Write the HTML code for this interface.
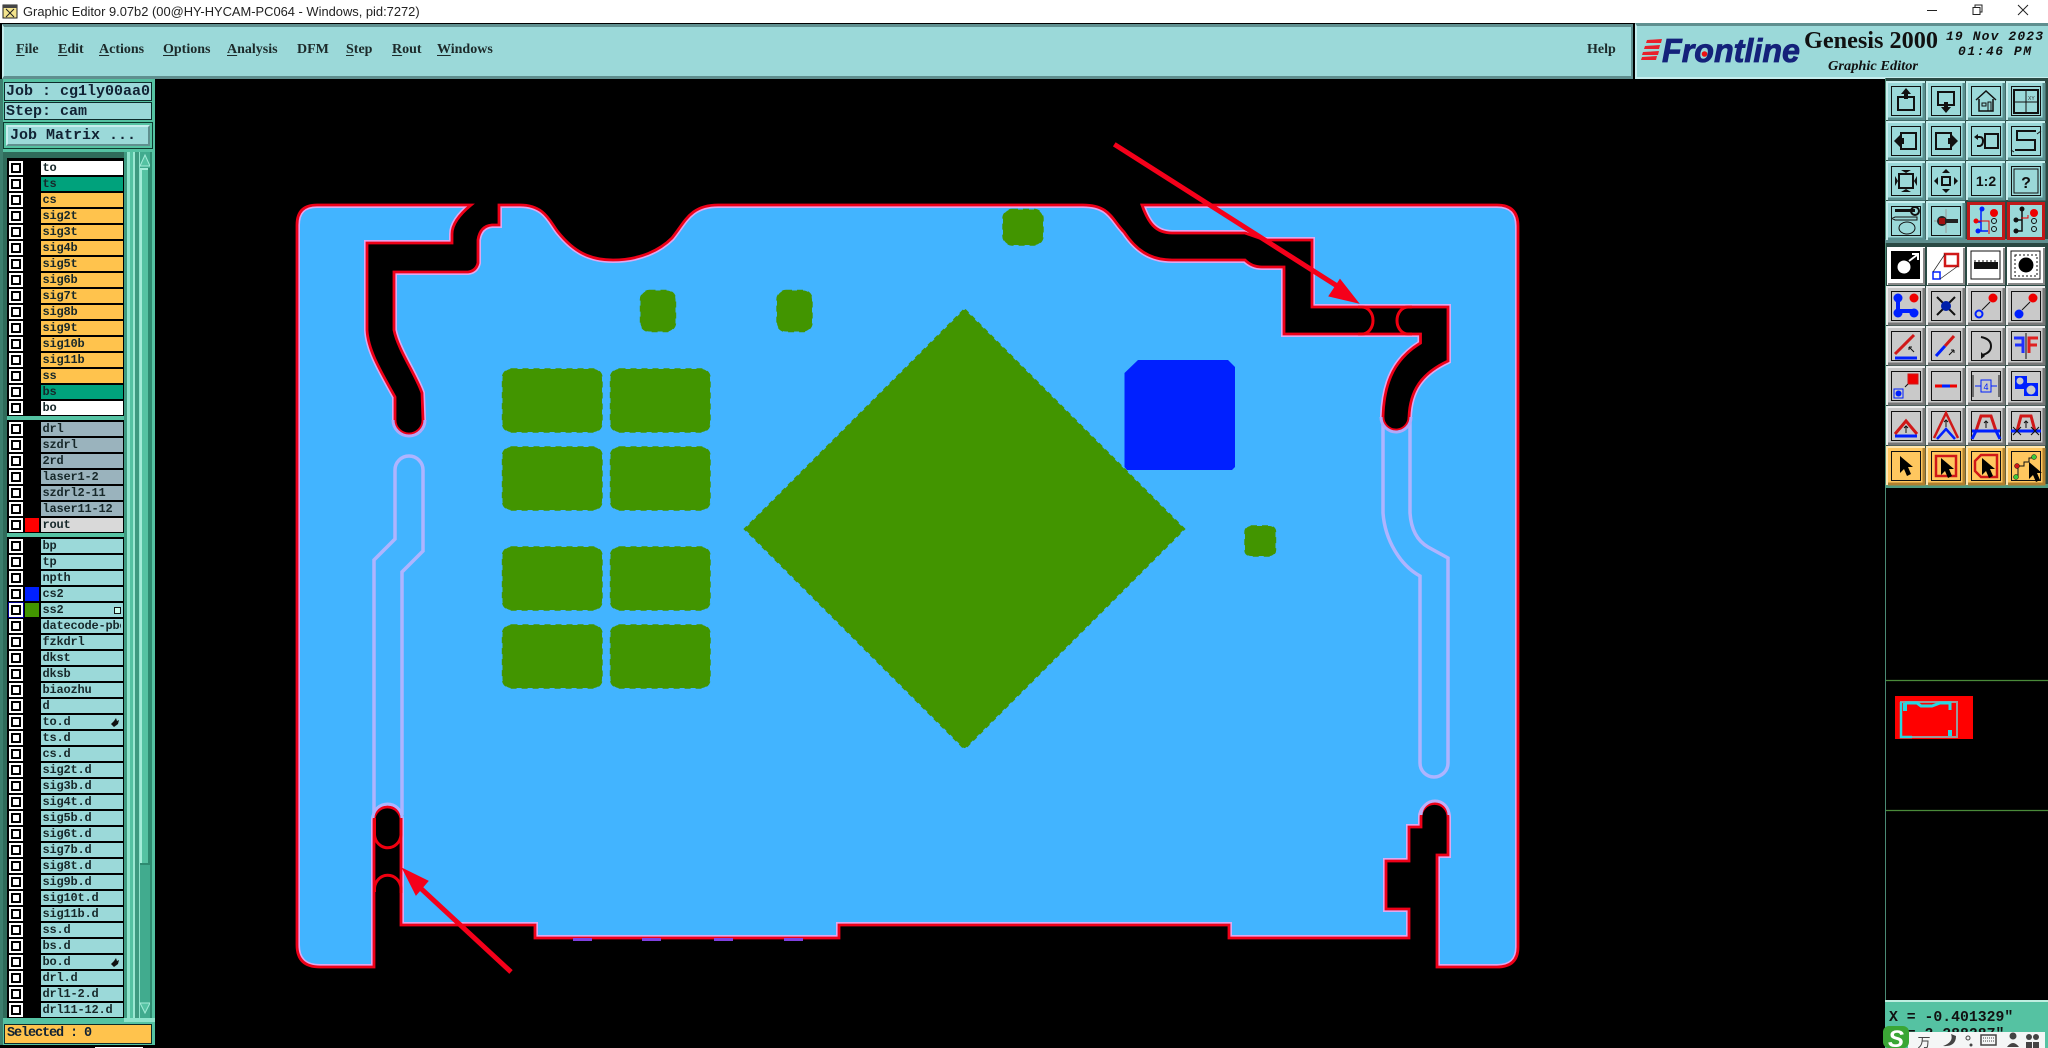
<!DOCTYPE html>
<html><head><meta charset="utf-8"><title>Graphic Editor</title>
<style>
html,body{margin:0;padding:0;background:#000}
#p{position:relative;width:2048px;height:1048px;overflow:hidden;background:#000;font-family:"Liberation Sans",sans-serif}
.a{position:absolute}
.m{position:absolute;top:41px;font:bold 14px/18px "Liberation Serif",serif;color:#1c2a2a}
.m u{text-underline-offset:2px}
.b{position:absolute;left:4px;width:148px;background:#9bd9d9;border:1px solid #0d2b2b;box-sizing:border-box;font:bold 15px/17px "Liberation Mono",monospace;color:#123;padding-left:1px;white-space:pre}
.r{position:absolute;left:41px;width:80px;height:14px;padding-left:1.5px;font:bold 12px/14px "Liberation Mono",monospace;letter-spacing:-.2px;color:#17282a;background:#9bd9d9;white-space:pre}
.r::before{content:"";position:absolute;left:-32px;top:0;width:14px;height:14px;background:#fff}
.r::after{content:"";position:absolute;left:-30px;top:2px;width:10px;height:10px;box-sizing:border-box;border:2px solid #000;background:#fff}
.o{background:#ffc34d}.g{background:#00a27c}.w{background:#fff}.s{background:#9ab3bd}
.c{position:absolute;left:-16px;top:0;width:14px;height:14px}
</style></head><body><div id="p">

<!-- title bar -->
<div class="a" style="left:0;top:0;width:2048px;height:23px;background:#fff"></div>
<svg class="a" style="left:0;top:0" width="2048" height="23">
<rect x="3" y="5" width="14" height="13" fill="#f4e48c" stroke="#222"/><rect x="3" y="5" width="14" height="3" fill="#444"/>
<path d="M6 9l8 8M14 9l-8 8" stroke="#222"/>
<path d="M1927 10.5h10" stroke="#222"/><path d="M1975 7.5v-2.500h7v7h-2.500" fill="none" stroke="#222"/><rect x="1973" y="7.500" width="7" height="7" fill="#fff" stroke="#222"/>
<path d="M2018 5l10 10M2028 5l-10 10" stroke="#222"/>
</svg>
<div class="a" style="left:23px;top:3px;font-size:12.9px;line-height:18px;color:#222;white-space:pre">Graphic Editor 9.07b2 (00@HY-HYCAM-PC064 - Windows, pid:7272)</div>

<!-- menu -->
<div class="a" style="left:2px;top:24px;width:1631px;height:55px;background:#9bd9d9;box-sizing:border-box;border-top:3px solid #5f8f8f;border-left:2px solid #c7eeee;border-bottom:3px solid #5f8f8f;border-right:2px solid #5f8f8f"></div>
<div class="a" style="left:1635px;top:23px;width:413px;height:56px;background:#9bd9d9;box-sizing:border-box;border-top:3px solid #5f8f8f;border-left:2px solid #c7eeee;border-bottom:2px solid #c7eeee"></div>
<div class="m" style="left:16px"><u>F</u>ile</div>
<div class="m" style="left:58px"><u>E</u>dit</div>
<div class="m" style="left:99px"><u>A</u>ctions</div>
<div class="m" style="left:163px"><u>O</u>ptions</div>
<div class="m" style="left:227px"><u>A</u>nalysis</div>
<div class="m" style="left:297px">DFM</div>
<div class="m" style="left:346px"><u>S</u>tep</div>
<div class="m" style="left:392px"><u>R</u>out</div>
<div class="m" style="left:437px"><u>W</u>indows</div>
<div class="m" style="left:1587px">Help</div>

<!-- logo -->
<svg class="a" style="left:1635px;top:23px" width="413" height="56">
<g fill="#e8202a"><path d="M12 17L27 16L26 20H11zM10 23L25 22L24 26H9zM8 29L24 28L23 32H7zM7 34L22 33L21 37H6z"/></g>
<text x="27" y="39" font-family="Liberation Sans" font-weight="bold" font-style="italic" font-size="33" fill="#14227a" stroke="#14227a" stroke-width=".8" textLength="138" lengthAdjust="spacingAndGlyphs">Frontline</text>
<circle cx="69.500" cy="31" r="2.800" fill="#e11"/>
<text x="169" y="25" font-family="Liberation Serif" font-weight="bold" font-size="24" fill="#111" textLength="134" lengthAdjust="spacingAndGlyphs">Genesis 2000</text>
<text x="193" y="47" font-family="Liberation Serif" font-weight="bold" font-style="italic" font-size="14" fill="#111" textLength="90" lengthAdjust="spacingAndGlyphs">Graphic Editor</text>
<text x="311" y="17" xml:space="preserve" font-family="Liberation Mono" font-style="italic" font-weight="bold" font-size="13" fill="#111" textLength="97" lengthAdjust="spacing">19 Nov 2023</text>
<text x="323" y="32" xml:space="preserve" font-family="Liberation Mono" font-style="italic" font-weight="bold" font-size="13" fill="#111" textLength="73" lengthAdjust="spacing">01:46 PM</text>
</svg>

<!-- left panel -->
<div class="a" style="left:0;top:79px;width:155px;height:966px;background:#55c2a2"></div>
<div class="a" style="left:0;top:152px;width:124px;height:866px;background:#2f6b5a"></div>
<div class="a" style="left:7px;top:158px;width:117px;height:860px;background:#000"></div>
<div class="a" style="left:7px;top:416px;width:117px;height:4px;background:#55c2a2"></div>
<div class="a" style="left:7px;top:533px;width:117px;height:4px;background:#55c2a2"></div>
<svg class="a" style="left:124px;top:152px" width="31" height="872">
<rect x="0" y="0" width="3" height="866" fill="#3e9a80"/>
<rect x="3" y="0" width="3" height="866" fill="#8fe4cc"/>
<rect x="6" y="0" width="3" height="866" fill="#55c2a2"/>
<rect x="9" y="0" width="2" height="866" fill="#9be8d2"/>
<rect x="11" y="0" width="4" height="866" fill="#3e9a80"/>
<rect x="15" y="0" width="1" height="866" fill="#8fe4cc"/>
<rect x="16" y="0" width="10" height="866" fill="#41ab8e"/>
<rect x="16" y="16" width="10" height="697" fill="#55c2a2"/>
<rect x="16" y="16" width="2" height="697" fill="#a3ecd8"/>
<rect x="16" y="16" width="10" height="2" fill="#a3ecd8"/>
<rect x="24" y="16" width="2" height="697" fill="#2e8a70"/>
<rect x="16" y="711" width="10" height="2" fill="#2e8a70"/>
<path d="M21 3l5 11h-10z" fill="#55c2a2" stroke="#a3ecd8"/>
<path d="M21 861l5-10h-10z" fill="#55c2a2" stroke="#a3ecd8"/>
<rect x="26" y="0" width="2" height="866" fill="#2e8a70"/>
<rect x="0" y="866" width="31" height="4" fill="#8fe4cc"/>
</svg>
<div class="a" style="left:0;top:79px;width:3px;height:966px;background:#3d7f6e"></div>

<div class="b" style="top:82px;height:19px">Job : cg1ly00aa0</div>
<div class="b" style="top:102px;height:18px">Step: cam</div>
<div class="a" style="left:3px;top:122px;width:150px;height:27px;background:#55c2a2;border:1px solid #0d3b30;box-sizing:border-box"></div>
<div class="a" style="left:6px;top:125px;width:144px;height:21px;box-sizing:border-box;background:#9bd9d9;border:2px solid;border-color:#c7eeee #5f8f8f #5f8f8f #c7eeee;font:bold 15px/18px 'Liberation Mono',monospace;color:#123;padding-left:2px;white-space:pre">Job Matrix ...</div>

<!-- layers -->
<div class="r w" style="top:161px">to</div>
<div class="r g" style="top:177px">ts</div>
<div class="r o" style="top:193px">cs</div>
<div class="r o" style="top:209px">sig2t</div>
<div class="r o" style="top:225px">sig3t</div>
<div class="r o" style="top:241px">sig4b</div>
<div class="r o" style="top:257px">sig5t</div>
<div class="r o" style="top:273px">sig6b</div>
<div class="r o" style="top:289px">sig7t</div>
<div class="r o" style="top:305px">sig8b</div>
<div class="r o" style="top:321px">sig9t</div>
<div class="r o" style="top:337px">sig10b</div>
<div class="r o" style="top:353px">sig11b</div>
<div class="r o" style="top:369px">ss</div>
<div class="r g" style="top:385px">bs</div>
<div class="r w" style="top:401px">bo</div>
<div class="r s" style="top:422px">drl</div>
<div class="r s" style="top:438px">szdrl</div>
<div class="r s" style="top:454px">2rd</div>
<div class="r s" style="top:470px">laser1-2</div>
<div class="r s" style="top:486px">szdrl2-11</div>
<div class="r s" style="top:502px">laser11-12</div>
<div class="r" style="top:518px;background:#d9d9d9">rout<span class="c" style="background:#f00"></span></div>
<div class="r" style="top:539px">bp</div>
<div class="r" style="top:555px">tp</div>
<div class="r" style="top:571px">npth</div>
<div class="r" style="top:587px">cs2<span class="c" style="background:#0020ff"></span></div>
<div class="a" style="left:8px;top:602px;width:16px;height:16px;background:#000090"></div>
<div class="r" style="top:603px">ss2<span class="c" style="background:#429500"></span><span class="a" style="left:73px;top:4px;width:5px;height:5px;border:1px solid #111;background:#cfe"></span></div>
<div class="r" style="top:619px"><span style="display:block;overflow:hidden;width:78px">datecode-pbe</span></div>
<div class="r" style="top:635px">fzkdrl</div>
<div class="r" style="top:651px">dkst</div>
<div class="r" style="top:667px">dksb</div>
<div class="r" style="top:683px">biaozhu</div>
<div class="r" style="top:699px">d</div>
<div class="r" style="top:715px">to.d<svg class="a" style="left:70px;top:3px" width="9" height="9"><path d="M0 6l3-3 2-3 1 3 2-1-1 4-4 3z" fill="#111"/></svg></div>
<div class="r" style="top:731px">ts.d</div>
<div class="r" style="top:747px">cs.d</div>
<div class="r" style="top:763px">sig2t.d</div>
<div class="r" style="top:779px">sig3b.d</div>
<div class="r" style="top:795px">sig4t.d</div>
<div class="r" style="top:811px">sig5b.d</div>
<div class="r" style="top:827px">sig6t.d</div>
<div class="r" style="top:843px">sig7b.d</div>
<div class="r" style="top:859px">sig8t.d</div>
<div class="r" style="top:875px">sig9b.d</div>
<div class="r" style="top:891px">sig10t.d</div>
<div class="r" style="top:907px">sig11b.d</div>
<div class="r" style="top:923px">ss.d</div>
<div class="r" style="top:939px">bs.d</div>
<div class="r" style="top:955px">bo.d<svg class="a" style="left:70px;top:3px" width="9" height="9"><path d="M0 6l3-3 2-3 1 3 2-1-1 4-4 3z" fill="#111"/></svg></div>
<div class="r" style="top:971px">drl.d</div>
<div class="r" style="top:987px">drl1-2.d</div>
<div class="r" style="top:1003px">drl11-12.d</div>
<div class="b" style="top:1024px;height:20px;background:#ffc34d;line-height:18px;font-size:13.500px;letter-spacing:-1.100px;padding-left:2px">Selected : 0</div>
<div class="a" style="left:0;top:1045px;width:155px;height:3px;background:#000"></div>
<div class="a" style="left:95px;top:1047px;width:48px;height:1px;background:#fff"></div>

<!-- board -->
<svg class="a" style="left:0;top:0" width="2048" height="1048">
<defs><path id="D" d="M297 225Q297 205 317 205L471 205C460 214 452 224 452 234L452 243L367 243L367 330C368 350 380 370 395 397L395 420A14 14 0 0 0 423 420L422 393C416 375 398 350 394 330L394 272L468 272Q476 271 478 263L478 240Q480 226 492 225L499 225L499 205L520 205C545 205 550 222 558 232C574 252 590 260 613 260C640 260 660 250 672 238C685 222 690 205 718 205L1083 205C1110 205 1112 220 1124 232C1136 250 1150 260 1172 260L1245 260Q1252 267 1262 267L1284 267L1284 334L1420.500 334L1420.500 343C1396 358 1384 380 1383 417A13 13 0 0 0 1409 417C1410 392 1420 374 1448 361L1448 307L1312 307L1312 240L1265 240L1245 233L1172 233C1155 233 1148 222 1142 205L1497 205Q1518 205 1518 226L1518 947Q1518 967 1497 967L1437 967L1437 855L1448 855L1448 817A13.500 13.500 0 0 0 1421 817L1421 827L1409 827L1409 861L1386 861L1386 909L1409 909L1409 938L1229 938L1229 925L839 925L839 938L535 938L535 925L401 925L401 820A13.500 13 0 0 0 374 820L374 967L320 967Q297 967 297 945Z"/></defs>
<rect x="290" y="198" width="1235" height="775" fill="#42b4ff"/>
<g fill="none" stroke="#aeb4ff" stroke-width="3.500">
<path d="M374 815L374 560L395 539L395 470A14 14 0 0 1 423 470L423 551L402 572L402 815"/>
<path d="M1383 417L1383 513C1385 540 1400 565 1420 576L1420 763A14 14 0 0 0 1448 763L1448 558L1428 547C1416 540 1411 528 1410 513L1410 417"/>
</g>
<use href="#D" fill="none" stroke="#e0a8f0" stroke-width="6"/>
<path d="M290 195H1530V975H290Z M297 225Q297 205 317 205L471 205C460 214 452 224 452 234L452 243L367 243L367 330C368 350 380 370 395 397L395 420A14 14 0 0 0 423 420L422 393C416 375 398 350 394 330L394 272L468 272Q476 271 478 263L478 240Q480 226 492 225L499 225L499 205L520 205C545 205 550 222 558 232C574 252 590 260 613 260C640 260 660 250 672 238C685 222 690 205 718 205L1083 205C1110 205 1112 220 1124 232C1136 250 1150 260 1172 260L1245 260Q1252 267 1262 267L1284 267L1284 334L1420.500 334L1420.500 343C1396 358 1384 380 1383 417A13 13 0 0 0 1409 417C1410 392 1420 374 1448 361L1448 307L1312 307L1312 240L1265 240L1245 233L1172 233C1155 233 1148 222 1142 205L1497 205Q1518 205 1518 226L1518 947Q1518 967 1497 967L1437 967L1437 855L1448 855L1448 817A13.500 13.500 0 0 0 1421 817L1421 827L1409 827L1409 861L1386 861L1386 909L1409 909L1409 938L1229 938L1229 925L839 925L839 938L535 938L535 925L401 925L401 820A13.500 13 0 0 0 374 820L374 967L320 967Q297 967 297 945Z" fill="#000" fill-rule="evenodd"/>
<use href="#D" fill="none" stroke="#ee0018" stroke-width="2.800"/>
<g fill="none" stroke="#b4a8f8" stroke-width="3">
<path d="M393 420A16 16 0 0 0 425 420"/>
<path d="M1421 815A14 14 0 0 1 1449 815" stroke="#c0b0f8"/>
<path d="M1381 417A15 15 0 0 0 1411 417"/>
<path d="M373 818A14.500 14 0 0 1 402 818" stroke="#aeb4ff"/>
</g>
<g fill="none" stroke="#f00010" stroke-width="3">
<path d="M1358 307H1362A11 13.500 0 0 1 1362 334H1358"/>
<path d="M1412 307H1408A11 13.500 0 0 0 1408 334H1412"/>
<path d="M374.500 818V835A13.300 14 0 0 0 401 835V818"/>
<path d="M374.500 892V888A13.300 14 0 0 1 401 888V893"/>
</g>
<g fill="#8040e0"><rect x="573" y="938" width="19" height="3"/><rect x="642" y="938" width="19" height="3"/><rect x="714" y="938" width="19" height="3"/><rect x="784" y="938" width="19" height="3"/></g>

<g fill="#429500" stroke="#429500" stroke-width="1.400" stroke-dasharray="6 5">
<rect x="502.500" y="369" width="99.500" height="63" rx="9"/><rect x="610.500" y="369" width="99.500" height="63" rx="9"/>
<rect x="502.500" y="447" width="99.500" height="63" rx="9"/><rect x="610.500" y="447" width="99.500" height="63" rx="9"/>
<rect x="502.500" y="547" width="99.500" height="63" rx="9"/><rect x="610.500" y="547" width="99.500" height="63" rx="9"/>
<rect x="502.500" y="625" width="99.500" height="63" rx="9"/><rect x="610.500" y="625" width="99.500" height="63" rx="9"/>
<rect x="640.500" y="290.500" width="35" height="41" rx="9"/>
<rect x="777" y="290.500" width="35" height="41" rx="9"/>
<rect x="1003" y="209.500" width="40" height="35.500" rx="9"/>
<rect x="1245" y="526" width="30.500" height="30" rx="6"/>
</g>
<path d="M964.500 312L1181.500 529L964.500 746L747.500 529Z" fill="#429500" stroke="#429500" stroke-width="4" stroke-linejoin="round"/>
<path d="M964.500 310L1183.500 529L964.500 748L745.500 529Z" fill="none" stroke="#429500" stroke-width="3" stroke-dasharray="5 4"/>
<path d="M1138 360H1228L1235 367V467L1232 470H1127L1124.500 467V373Z" fill="#0020ff"/>

<g fill="#f5001a" stroke="#f5001a">
<path d="M1114.300 144.300L1345 291" stroke-width="5" fill="none"/>
<path d="M1358.500 303L1329 296L1340 279.500Z" stroke-width="1"/>
<path d="M511 972L415 883" stroke-width="5" fill="none"/>
<path d="M402.700 868.600L428 881L416 895Z" stroke-width="1"/>
</g>
</svg>

<!-- right toolbar -->
<svg class="a" style="left:1880px;top:78px" width="168" height="970" font-family="Liberation Sans">
<defs>
<g id="bt"><rect width="38" height="38" fill="#9bd9d9"/><path d="M0 38V0H38" fill="none" stroke="#c7eeee" stroke-width="2"/><path d="M1 37H37V1" fill="none" stroke="#5a8f8f" stroke-width="3"/><rect x="4.500" y="4.500" width="29" height="29" fill="none" stroke="#111"/></g>
<g id="bg"><rect width="38" height="38" fill="#c9c9c9"/><path d="M0 38V0H38" fill="none" stroke="#eee" stroke-width="2"/><path d="M1 37H37V1" fill="none" stroke="#777" stroke-width="3"/><rect x="4.500" y="4.500" width="29" height="29" fill="none" stroke="#111"/></g>
<g id="bo"><rect width="38" height="38" fill="#ffc75f"/><path d="M0 38V0H38" fill="none" stroke="#ffe6b0" stroke-width="2"/><path d="M1 37H37V1" fill="none" stroke="#b08030" stroke-width="3"/><rect x="4.500" y="4.500" width="29" height="29" fill="none" stroke="#111"/></g>
<g id="bw"><rect width="38" height="38" fill="#fff"/><path d="M1 37H37V1" fill="none" stroke="#888" stroke-width="2"/></g>
<path id="ar" d="M0 0L0 17L4 13L7 20L11 18L8 11L13 11Z"/>
</defs>
<rect x="5" y="0" width="163" height="410" fill="#2a4a44"/>
<rect x="5" y="0" width="1" height="922" fill="#4a8a74"/>
<rect x="5" y="161" width="163" height="4" fill="#5f8f8f"/>
<rect x="5" y="406" width="163" height="4" fill="#4f9a80"/>
<rect x="6" y="410" width="162" height="512" fill="#000"/>

<!-- group 1 -->
<g transform="translate(7,4)"><use href="#bt"/><rect x="11" y="15" width="16" height="13" fill="none" stroke="#111" stroke-width="2"/><path d="M19 6l5 6h-3v5h-4v-5h-3z" fill="#111"/></g>
<g transform="translate(47,4)"><use href="#bt"/><rect x="11" y="10" width="16" height="13" fill="none" stroke="#111" stroke-width="2"/><path d="M19 31l-5-6h3v-5h4v5h3z" fill="#111"/></g>
<g transform="translate(87,4)"><use href="#bt"/><path d="M9 18L19 9L29 18M12 17V29H26V17" fill="none" stroke="#111" stroke-width="1.500"/><rect x="15" y="21" width="4" height="3" fill="none" stroke="#111"/><rect x="21" y="20" width="3" height="9" fill="none" stroke="#111"/></g>
<g transform="translate(127,4)"><use href="#bt"/><rect x="7" y="8" width="24" height="23" fill="none" stroke="#111" stroke-width="2"/><path d="M19 8V31M7 20H31" stroke="#111"/><text x="21" y="18" font-size="5" fill="#333">XY</text></g>
<g transform="translate(7,44)"><use href="#bt"/><rect x="14" y="11" width="15" height="16" fill="none" stroke="#111" stroke-width="2"/><path d="M7 19l6-6v12z" fill="#111"/><rect x="11" y="16" width="6" height="6" fill="#111"/></g>
<g transform="translate(47,44)"><use href="#bt"/><rect x="9" y="11" width="15" height="16" fill="none" stroke="#111" stroke-width="2"/><path d="M31 19l-6-6v12z" fill="#111"/><rect x="21" y="16" width="6" height="6" fill="#111"/></g>
<g transform="translate(87,44)"><use href="#bt"/><rect x="18" y="12" width="13" height="14" fill="none" stroke="#111" stroke-width="2"/><path d="M9 15h4q3 0 3 4t-3 5h-3" fill="none" stroke="#111" stroke-width="2"/><path d="M7 15l4-3v6z" fill="#111"/></g>
<g transform="translate(127,44)"><use href="#bt"/><path d="M29 9H10V18H28V28H8" fill="none" stroke="#111" stroke-width="2"/><path d="M30 12l4-3M4 28l3 2" stroke="#111"/></g>
<g transform="translate(7,84)"><use href="#bt"/><rect x="12" y="12" width="14" height="14" fill="none" stroke="#111" stroke-width="2"/><path d="M19 11l-5-3h10zM19 27l-5 3h10zM11 19l-3-5v10zM27 19l3-5v10z" fill="#111"/></g>
<g transform="translate(47,84)"><use href="#bt"/><rect x="15" y="15" width="8" height="8" fill="none" stroke="#111" stroke-width="2"/><path d="M19 7l-4 4h8zM19 31l-4-4h8zM7 19l4-4v8zM31 19l-4-4v8z" fill="#111"/></g>
<g transform="translate(87,84)"><use href="#bt"/><text x="19" y="24" font-size="14" font-weight="bold" text-anchor="middle" fill="#111">1:2</text></g>
<g transform="translate(127,84)"><use href="#bt"/><rect x="7" y="7" width="24" height="24" fill="none" stroke="#111"/><text x="19" y="26" font-size="16" font-weight="bold" text-anchor="middle" fill="#111">?</text></g>
<g transform="translate(7,124)"><use href="#bt"/><rect x="8" y="7" width="20" height="3" fill="#111"/><circle cx="28" cy="9" r="4" fill="none" stroke="#111" stroke-width="2"/><path d="M8 15H30V18H8L5 16.500Z" fill="none" stroke="#111"/><ellipse cx="20" cy="26" rx="8" ry="6" fill="none" stroke="#111"/></g>
<g transform="translate(47,124)"><use href="#bt"/><path d="M19 7V31M7 19H31" stroke="#999"/><path d="M19 17H31V21H19z" fill="#222"/><circle cx="15" cy="19" r="5" fill="#222"/><rect x="12" y="16" width="6" height="6" fill="#a01010"/></g>
<g transform="translate(87,124)"><rect width="38" height="38" fill="#c01818"/><rect x="3" y="3" width="32" height="32" fill="#9bd9d9"/><path d="M14 8V20M9 20H14V29H21" fill="none" stroke="#0020ff" stroke-width="1.500"/><path d="M9 19H22V32" fill="none" stroke="#e00"/><circle cx="15" cy="7" r="2.500" fill="#0020ff"/><circle cx="9" cy="19" r="2.500" fill="#e00"/><circle cx="11" cy="29" r="2.500" fill="#0020ff"/><circle cx="27" cy="11" r="4" fill="#e00"/><circle cx="27" cy="19" r="2.500" fill="none" stroke="#111"/><circle cx="27" cy="27" r="2.500" fill="none" stroke="#111"/></g>
<g transform="translate(127,124)"><rect width="38" height="38" fill="#c01818"/><rect x="3" y="3" width="32" height="32" fill="#9bd9d9"/><path d="M15 8V29H9M9 18H15" fill="none" stroke="#111" stroke-width="1.500"/><path d="M14 16h7v-3" stroke="#e00" fill="none"/><circle cx="15" cy="7" r="2.500" fill="#111"/><circle cx="9" cy="18" r="2.500" fill="#111"/><circle cx="9" cy="29" r="2.500" fill="#111"/><circle cx="27" cy="11" r="4" fill="#e00"/><circle cx="27" cy="19" r="2.500" fill="none" stroke="#111"/><circle cx="27" cy="27" r="2.500" fill="none" stroke="#111"/></g>

<!-- group 2 row 1 -->
<g transform="translate(7,169)"><use href="#bw"/><rect x="4" y="4" width="29" height="28" fill="#000"/><circle cx="17" cy="20" r="7" fill="#fff" stroke="#000"/><path d="M22 14L30 8M25 7h6v6" stroke="#fff" fill="none" stroke-width="2"/></g>
<g transform="translate(47,169)"><use href="#bw"/><rect x="18" y="7" width="13" height="12" fill="none" stroke="#d01818" stroke-width="2.500"/><rect x="6" y="25" width="7" height="7" fill="none" stroke="#0020ff" stroke-width="1.500"/><path d="M18 7L6 25M31 19L13 32" stroke="#222" stroke-width=".7"/></g>
<g transform="translate(87,169)"><use href="#bw"/><rect x="4" y="4" width="29" height="28" fill="none" stroke="#111"/><rect x="7" y="15" width="24" height="7" fill="#111"/><path d="M8 15v-2M12 15v-2M16 15v-2M20 15v-2M24 15v-2M28 15v-2" stroke="#111"/></g>
<g transform="translate(127,169)"><use href="#bw"/><rect x="4" y="4" width="29" height="28" fill="none" stroke="#111"/><rect x="8" y="8" width="22" height="21" fill="none" stroke="#111" stroke-dasharray="2 2"/><circle cx="19" cy="18" r="7.500" fill="#000"/></g>
<!-- row 2 -->
<g transform="translate(7,209)"><use href="#bg"/><path d="M11 11V24H27" stroke="#0020ff" stroke-width="4" fill="none"/><circle cx="11" cy="11" r="4.500" fill="#0020ff"/><circle cx="11" cy="26" r="4.500" fill="#0020ff"/><circle cx="27" cy="26" r="4.500" fill="#0020ff"/><circle cx="27" cy="11" r="4.500" fill="#e00"/></g>
<g transform="translate(47,209)"><use href="#bg"/><path d="M10 10L28 28M28 10L10 28" stroke="#111" stroke-width="2"/><circle cx="19" cy="19" r="5" fill="#0020aa"/></g>
<g transform="translate(87,209)"><use href="#bg"/><circle cx="12" cy="27" r="3.500" fill="none" stroke="#0020ff" stroke-width="2"/><path d="M15 23L23 15" stroke="#111"/><circle cx="26" cy="11" r="4.500" fill="#e00"/></g>
<g transform="translate(127,209)"><use href="#bg"/><circle cx="12" cy="27" r="4.500" fill="#0020ff"/><path d="M15 23L23 15" stroke="#111"/><circle cx="26" cy="11" r="4.500" fill="#e00"/></g>
<!-- row 3 -->
<g transform="translate(7,249)"><use href="#bg"/><path d="M8 27L27 8" stroke="#d01818" stroke-width="3"/><path d="M8 31H30" stroke="#0020ff" stroke-width="3"/><path d="M22 20l5 5M22 20v3M22 20h3" stroke="#111" fill="none"/></g>
<g transform="translate(47,249)"><use href="#bg"/><path d="M9 29L18 19" stroke="#0020ff" stroke-width="3"/><path d="M18 19L27 9" stroke="#d01818" stroke-width="3"/><path d="M22 28l5-5M27 23h-3M27 23v3" stroke="#111" fill="none"/></g>
<g transform="translate(87,249)"><use href="#bg"/><path d="M14 10Q24 12 24 19T15 28" fill="none" stroke="#111" stroke-width="2"/><path d="M14 25v7l4-3z" fill="#111"/></g>
<g transform="translate(127,249)"><use href="#bg"/><path d="M19 6V32" stroke="#111"/><path d="M7 11H16V26M8 18H15" stroke="#2030ff" stroke-width="3" fill="none"/><path d="M31 11H22V26M22 18H30" stroke="#e02020" stroke-width="3" fill="none"/></g>
<!-- row 4 -->
<g transform="translate(7,289)"><use href="#bg"/><rect x="21" y="7" width="10" height="10" fill="#e00" stroke="#d01818"/><rect x="7" y="22" width="9" height="9" fill="none" stroke="#0020ff"/><circle cx="11.500" cy="26.500" r="3" fill="#0020ff"/><path d="M18 20l3-3" stroke="#111"/></g>
<g transform="translate(47,289)"><use href="#bg"/><path d="M8 19H15" stroke="#e00" stroke-width="3"/><path d="M15 19H23" stroke="#0020ff" stroke-width="3"/><path d="M23 19H30" stroke="#e00" stroke-width="3"/></g>
<g transform="translate(87,289)"><use href="#bg"/><path d="M6 8V30M32 8V30" stroke="#111"/><path d="M8 19H30" stroke="#0020ff"/><rect x="14" y="13" width="10" height="12" fill="#c9c9c9" stroke="#0020ff"/><text x="19" y="23" font-size="9" text-anchor="middle" fill="#0020ff">4</text></g>
<g transform="translate(127,289)"><use href="#bg"/><path d="M8 9H20V16H31V29H17V22H8Z" fill="#0020ff"/><circle cx="13" cy="14" r="3.500" fill="#c9c9c9"/><circle cx="24" cy="23" r="4.500" fill="#c9c9c9"/></g>
<!-- row 5 -->
<g transform="translate(7,329)"><use href="#bg"/><path d="M8 27L19 14L30 27" fill="none" stroke="#d01818" stroke-width="3"/><path d="M8 29H30" stroke="#0020ff" stroke-width="3"/><path d="M19 26V19M17 21l2-2 2 2" stroke="#111" fill="none"/></g>
<g transform="translate(47,329)"><use href="#bg"/><path d="M7 31L19 6L31 31" fill="none" stroke="#d01818" stroke-width="2.500"/><path d="M10 32L19 22L28 32" fill="none" stroke="#0020ff" stroke-width="2.500"/><path d="M19 20V13M17 15l2-2 2 2" stroke="#111" fill="none"/></g>
<g transform="translate(87,329)"><use href="#bg"/><path d="M9 24L14 9H24L29 24" fill="none" stroke="#d01818" stroke-width="3"/><path d="M5 24H33M9 24L5 32M29 24L33 32" stroke="#0020ff" stroke-width="3" fill="none"/><path d="M19 21V14M17 16l2-2 2 2" stroke="#111" fill="none"/></g>
<g transform="translate(127,329)"><use href="#bg"/><path d="M10 24L14 9H24L28 24" fill="none" stroke="#d01818" stroke-width="3"/><path d="M4 24H34" stroke="#0020ff" stroke-width="3"/><path d="M19 21V14M17 16l2-2 2 2M6 20l8 8M14 20l-8 8M24 20l8 8M32 20l-8 8" stroke="#111" fill="none"/></g>
<!-- row 6 -->
<g transform="translate(7,369)"><use href="#bo"/><use href="#ar" x="13" y="9"/></g>
<g transform="translate(47,369)"><use href="#bo"/><rect x="9" y="9" width="20" height="20" fill="none" stroke="#d01818" stroke-width="2.500"/><use href="#ar" x="14" y="11"/></g>
<g transform="translate(87,369)"><use href="#bo"/><path d="M14 8H30V30H14L8 24V14Z" fill="none" stroke="#d01818" stroke-width="2.500"/><use href="#ar" x="15" y="11"/></g>
<g transform="translate(127,369)"><use href="#bo"/><path d="M11 19V29M11 19H17V15H22V11H27" fill="none" stroke="#111"/><circle cx="27" cy="10" r="2.500" fill="#3cc83c" stroke="#111" stroke-width=".5"/><circle cx="10" cy="19" r="2.500" fill="#d01818" stroke="#111" stroke-width=".5"/><circle cx="9" cy="30" r="2.500" fill="#3cc83c" stroke="#111" stroke-width=".5"/><use href="#ar" x="22" y="15"/></g>

<!-- preview -->
<path d="M6 602.500H168M6 732.500H168" stroke="#4a8a3a" stroke-width="1.200"/>
<rect x="15" y="618" width="78" height="43" fill="#f00"/>
<rect x="21" y="624" width="56" height="35" fill="none" stroke="#9a9a9a" stroke-width="2"/>
<path d="M21 624V659H32" fill="none" stroke="#27d7e0" stroke-width="2.500"/>
<path d="M25 625H37L41 628H52L60 625H70V632" fill="none" stroke="#27d7e0" stroke-width="3"/>
<path d="M25 625V633M70 652V658" stroke="#27d7e0" stroke-width="4"/>

<!-- coords -->
<rect x="5" y="922" width="163" height="48" fill="#55c2a2"/>
<rect x="5" y="922" width="163" height="2" fill="#bfeee0"/>
<text x="9" y="943" xml:space="preserve" font-family="Liberation Mono" font-weight="bold" font-size="14.800" fill="#111">X = -0.401329"</text>
<text x="9" y="960" xml:space="preserve" font-family="Liberation Mono" font-weight="bold" font-size="14.800" fill="#111">Y = 2.288287"</text>
<!-- IME -->
<rect x="28" y="954" width="137" height="16" fill="#f4f6f6"/>
<rect x="3" y="948" width="26" height="22" rx="6" fill="#3aa635"/>
<text x="16" y="969" font-size="24" font-weight="bold" font-style="italic" text-anchor="middle" fill="#fff">S</text>
<text x="44" y="969" font-family="Noto Sans CJK SC" font-size="13" text-anchor="middle" fill="#444">万</text>
<path d="M71 956Q74 964 63 968Q76 969 76 958Z" fill="#444"/>
<circle cx="88" cy="960" r="2" fill="none" stroke="#444"/><circle cx="91" cy="967" r="1.500" fill="#444"/>
<rect x="101" y="957" width="15" height="10" fill="none" stroke="#444" stroke-width="1.500"/><path d="M103 960h11M103 963h11" stroke="#444" stroke-dasharray="1 1"/>
<circle cx="133" cy="958" r="3.500" fill="#444"/><path d="M127 969q6-8 12 0z" fill="#444"/>
<circle cx="149" cy="959" r="3" fill="#444"/><circle cx="156" cy="959" r="3" fill="#444"/><rect x="146" y="964" width="6" height="6" fill="#444"/><rect x="153" y="964" width="6" height="6" fill="#444"/>
</svg>
</div></body></html>
